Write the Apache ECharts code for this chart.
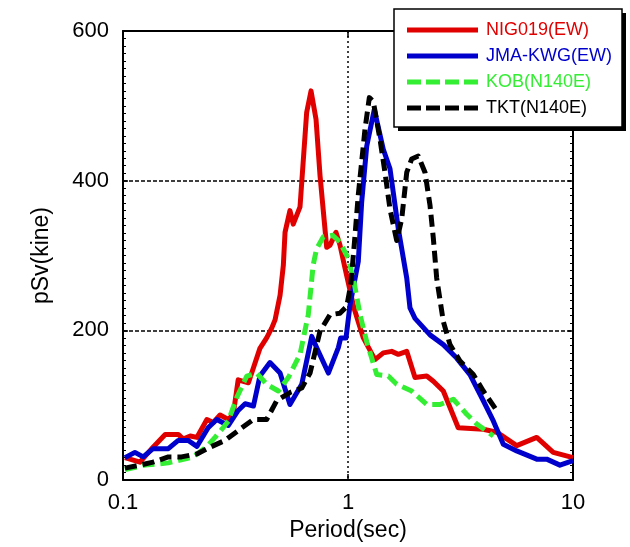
<!DOCTYPE html>
<html><head><meta charset="utf-8">
<script src="https://cdn.jsdelivr.net/npm/echarts@6/dist/echarts.min.js"></script>
<style>html,body{margin:0;padding:0;background:#fff}#c{width:630px;height:547px}</style>
</head><body><div id="c"></div>
<script>
const seriesNames = ['NIG019(EW)', 'JMA-KWG(EW)', 'KOB(N140E)', 'TKT(N140E)'];
const xTicks = [0.1, 1, 10];
const yTicks = [0, 200, 400, 600];

const redT = [0.102,0.119,0.136,0.154,0.176,0.185,0.199,0.213,0.236,0.252,0.270,0.294,0.309,0.325,0.361,0.380,0.406,0.435,0.458,0.474,0.499,0.516,0.525,0.552,0.571,0.612,0.655,0.685,0.721,0.751,0.804,0.832,0.884,0.921,0.970,1.063,1.17,1.318,1.435,1.564,1.673,1.824,1.985,2.238,2.395,2.652,3.09,3.994,4.58,5.62,6.9,8.17,10];
const redV = [30,24,44,61,61,55,59,57,81,77,87,81,88,134,130,150,176,190,203,214,247,287,331,360,342,365,491,520,482,407,311,314,331,314,283,230,190,161,170,172,168,172,137,139,132,119,70,68,64,46,57,37,30];

const blueT = [0.102,0.113,0.123,0.136,0.159,0.176,0.195,0.213,0.239,0.261,0.294,0.325,0.349,0.380,0.406,0.450,0.499,0.552,0.623,0.690,0.738,0.818,0.906,0.928,0.980,1.021,1.111,1.15,1.211,1.309,1.435,1.537,1.673,1.824,1.886,1.985,2.315,2.652,3.04,3.484,3.994,4.424,4.9,5.62,6.9,7.64,8.75,10];
const blueV = [30,37,31,42,42,53,53,45,70,81,73,93,102,99,139,157,143,101,128,192,172,143,177,190,190,234,292,371,446,495,442,416,336,270,230,216,194,181,163,141,106,79,48,39,28,28,20,26];

const greenT = [0.102,0.125,0.159,0.205,0.236,0.265,0.294,0.320,0.355,0.393,0.435,0.490,0.543,0.612,0.666,0.700,0.725,0.777,0.855,0.921,1.003,1.063,1.131,1.211,1.342,1.51,1.646,1.919,2.238,2.565,2.938,3.37,3.733,4.424];
const greenV = [14,20,23,31,45,62,79,110,139,143,128,119,137,168,221,287,309,325,327,318,296,265,221,185,141,139,128,119,101,101,108,88,75,59];

const blackT = [0.102,0.119,0.136,0.159,0.182,0.213,0.244,0.284,0.331,0.380,0.435,0.482,0.552,0.623,0.678,0.751,0.832,0.921,0.987,1.03,1.07,1.11,1.15,1.19,1.244,1.295,1.388,1.46,1.537,1.646,1.733,1.824,1.919,2.053,2.2,2.315,2.395,2.478,2.652,2.84,3.147,3.606,3.994,4.58];
const blackV = [16,20,24,31,31,35,44,53,68,81,81,106,117,123,143,199,221,223,232,262,320,380,425,469,511,506,455,411,362,320,349,411,429,433,411,367,323,270,212,181,159,141,119,93];

const colors = ['#e00000', '#0000cc', '#33ee33', '#000000'];
const FONT = "'Liberation Sans', Arial, sans-serif";
const solidIcon = 'path://M0,0h71v5h-71z';
const dashIcon = 'path://M0,0h14v5h-14zM19,0h14v5h-14zM38,0h14v5h-14zM57,0h14v5h-14z';
const icons = [solidIcon, solidIcon, dashIcon, dashIcon];

function pairs(t, v) { return t.map((x, i) => [x, v[i]]); }
const allData = [pairs(redT, redV), pairs(blueT, blueV), pairs(greenT, greenV), pairs(blackT, blackV)];
const dashed = [null, null, [12, 6], [12, 6]];

const chart = echarts.init(document.getElementById('c'), null, {renderer: 'canvas'});
const frameLine = {show: true, onZero: false, lineStyle: {color: '#000', width: 2}};
const xCommon = {
  type: 'log', logBase: 10, min: 0.1, max: 10,
  axisLine: frameLine,
  axisTick: {show: true, inside: true, length: 6, lineStyle: {color: '#000', width: 1.5}},
  minorTick: {show: false}
};
const yCommon = {
  type: 'value', min: 0, max: 600, interval: 200,
  axisLine: frameLine,
  axisTick: {show: true, inside: true, length: 5, lineStyle: {color: '#000', width: 1.5}},
  minorTick: {show: true, splitNumber: 20, length: 3, lineStyle: {color: '#000', width: 1}}
};

chart.setOption({
  animation: false,
  textStyle: {fontFamily: FONT},
  grid: {left: 123, right: 57, top: 31, bottom: 64},
  xAxis: [
    Object.assign({}, xCommon, {
      position: 'bottom',
      name: 'Period(sec)', nameLocation: 'middle', nameGap: 38,
      nameTextStyle: {fontSize: 23, color: '#000', fontFamily: FONT},
      axisLabel: {show: true, fontSize: 22, color: '#000', margin: 12, fontFamily: FONT,
        formatter: v => String(xTicks.find(t => Math.abs(t - v) < 1e-9) ?? v)},
      splitLine: {show: true, lineStyle: {color: '#000', width: 1.5, type: [2, 3]}}
    }),
    Object.assign({}, xCommon, {position: 'top', axisLabel: {show: false}, splitLine: {show: false}})
  ],
  yAxis: [
    Object.assign({}, yCommon, {
      position: 'left',
      name: 'pSv(kine)', nameLocation: 'middle', nameGap: 70, nameRotate: 90,
      nameTextStyle: {fontSize: 23, color: '#000', fontFamily: FONT},
      axisLabel: {show: true, fontSize: 22, color: '#000', margin: 14, fontFamily: FONT,
        formatter: v => String(yTicks.find(t => t === v) ?? v)},
      splitLine: {show: true, lineStyle: {color: '#000', width: 1.5, type: [4, 2]}},
      minorSplitLine: {show: false}
    }),
    Object.assign({}, yCommon, {position: 'right', axisLabel: {show: false}, splitLine: {show: false}})
  ],
  legend: {
    orient: 'vertical', left: 407, top: 20, z: 60, padding: 0,
    itemWidth: 71, itemHeight: 5, itemGap: 6,
    textStyle: {fontSize: 18, fontFamily: FONT, lineHeight: 20, padding: [0, 0, 0, 3]},
    data: seriesNames.map((n, i) => ({name: n, icon: icons[i], itemStyle: {color: colors[i]}, textStyle: {color: colors[i]}}))
  },
  graphic: [
    {type: 'rect', z: 50, shape: {x: 398, y: 13, width: 228, height: 118}, style: {fill: '#000'}},
    {type: 'rect', z: 51, shape: {x: 394, y: 9, width: 228, height: 118}, style: {fill: '#fff', stroke: '#000', lineWidth: 1.5}}
  ],
  series: seriesNames.map((n, i) => ({
    name: n, type: 'line', data: allData[i], showSymbol: false, symbol: 'none',
    lineStyle: {color: colors[i], width: 5, type: dashed[i] || 'solid', cap: 'butt', join: 'round'},
    itemStyle: {color: colors[i]},
    z: 10 + i
  }))
});
</script></body></html>
